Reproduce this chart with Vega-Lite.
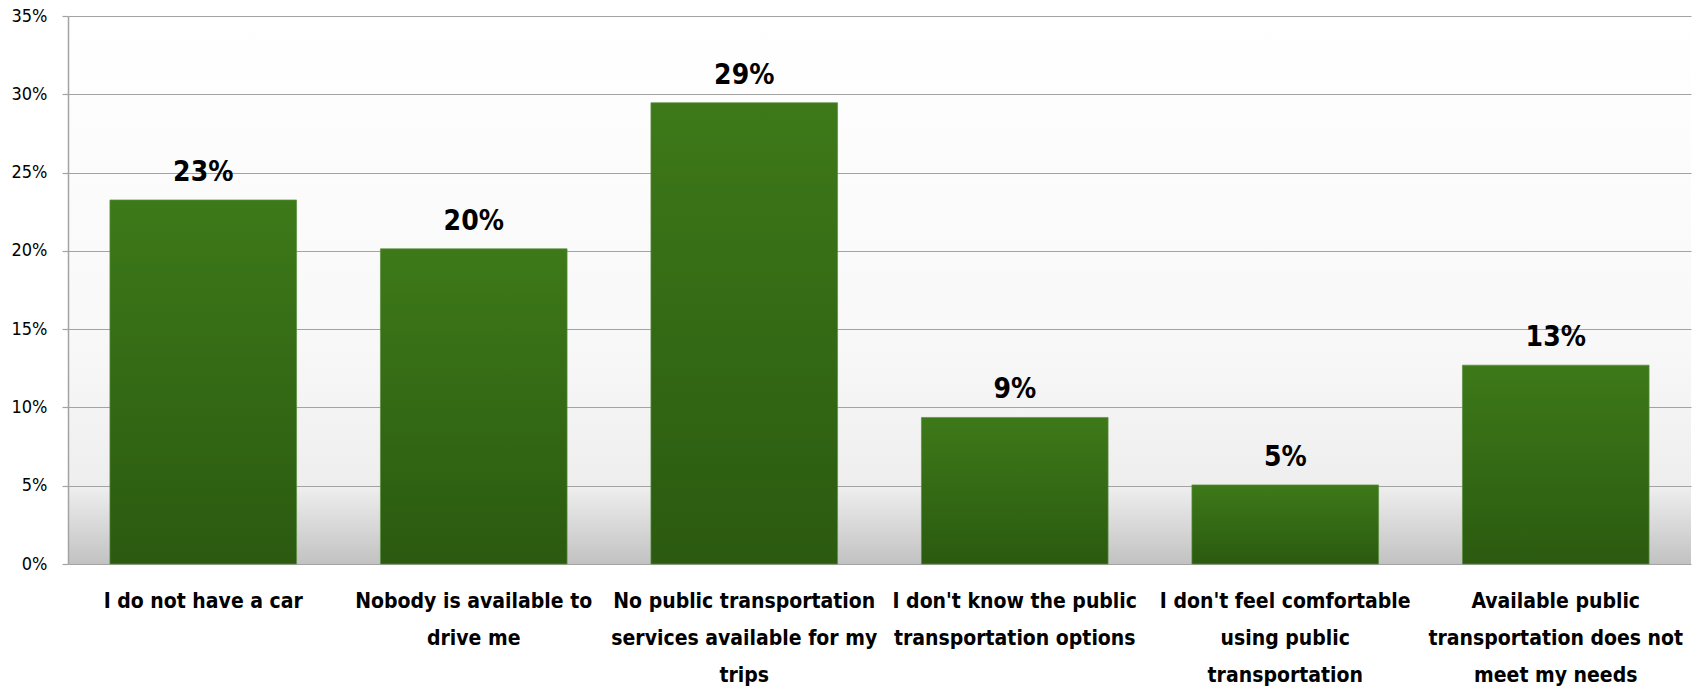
{
  "$schema": "https://vega.github.io/schema/vega-lite/v6.json",
  "autosize": "none",
  "width": 1623,
  "height": 548,
  "padding": {"left": 68, "top": 16, "right": 5, "bottom": 125},
  "background": "#ffffff",
  "data": {
    "values": [
      {"reason": "I do not have a car", "share": 0.2325},
      {"reason": "Nobody is available to drive me", "share": 0.2013},
      {"reason": "No public transportation services available for my trips", "share": 0.2946},
      {"reason": "I don't know the public transportation options", "share": 0.0936},
      {"reason": "I don't feel comfortable using public transportation", "share": 0.0505},
      {"reason": "Available public transportation does not meet my needs", "share": 0.127}
    ]
  },
  "config": {
    "view": {
      "stroke": null,
      "fill": {"gradient": "linear", "x1": 0, "y1": 0, "x2": 0, "y2": 1,
        "stops": [
          {"offset": 0, "color": "#ffffff"},
          {"offset": 0.6, "color": "#f8f8f8"},
          {"offset": 0.86, "color": "#eeeeee"},
          {"offset": 1, "color": "#c2c2c2"}
        ]}
    },
    "font": "DejaVu Sans Condensed"
  },
  "encoding": {
    "x": {
      "field": "reason", "type": "nominal", "sort": null,
      "scale": {"paddingInner": 0.31, "paddingOuter": 0.155},
      "axis": {
        "title": null, "labelAngle": 0, "ticks": false, "domain": false,
        "labelFont": "DejaVu Sans Condensed", "labelFontWeight": "bold",
        "labelFontSize": 21, "labelColor": "#000000", "labelPadding": 26,
        "labelLineHeight": 37, "labelLimit": 400, "labelBaseline": "top",
        "labelExpr": "datum.value == 'Nobody is available to drive me' ? ['Nobody is available to', 'drive me'] : datum.value == 'No public transportation services available for my trips' ? ['No public transportation', 'services available for my', 'trips'] : datum.value == \"I don't know the public transportation options\" ? [\"I don't know the public\", 'transportation options'] : datum.value == \"I don't feel comfortable using public transportation\" ? [\"I don't feel comfortable\", 'using public', 'transportation'] : datum.value == 'Available public transportation does not meet my needs' ? ['Available public', 'transportation does not', 'meet my needs'] : datum.value"
      }
    },
    "y": {
      "field": "share", "type": "quantitative",
      "scale": {"domain": [0, 0.35], "nice": false},
      "axis": {
        "title": null, "format": ".0%", "values": [0, 0.05, 0.1, 0.15, 0.2, 0.25, 0.3, 0.35],
        "grid": true, "gridColor": "#a3a3a3", "gridWidth": 1.2, "gridOpacity": 1,
        "domain": true, "domainColor": "#a3a3a3", "domainWidth": 1.5,
        "ticks": true, "tickSize": 6, "tickColor": "#a3a3a3", "tickWidth": 1.2,
        "labelFont": "DejaVu Sans Condensed", "labelFontSize": 18, "labelColor": "#000000",
        "labelPadding": 15
      }
    }
  },
  "layer": [
    {
      "mark": {
        "type": "bar",
        "stroke": "#5b8f3f", "strokeWidth": 1, "strokeOpacity": 0.7,
        "color": {"gradient": "linear", "x1": 0, "y1": 0, "x2": 0, "y2": 1,
          "stops": [
            {"offset": 0, "color": "#3d7919"},
            {"offset": 1, "color": "#2b5a10"}
          ]}
      }
    },
    {
      "mark": {"type": "text", "baseline": "bottom", "dy": -13, "font": "DejaVu Sans Condensed", "fontWeight": "bold", "fontSize": 28, "color": "#000000"},
      "encoding": {
        "text": {"field": "share", "type": "quantitative", "format": ".0%"}
      }
    }
  ]
}
